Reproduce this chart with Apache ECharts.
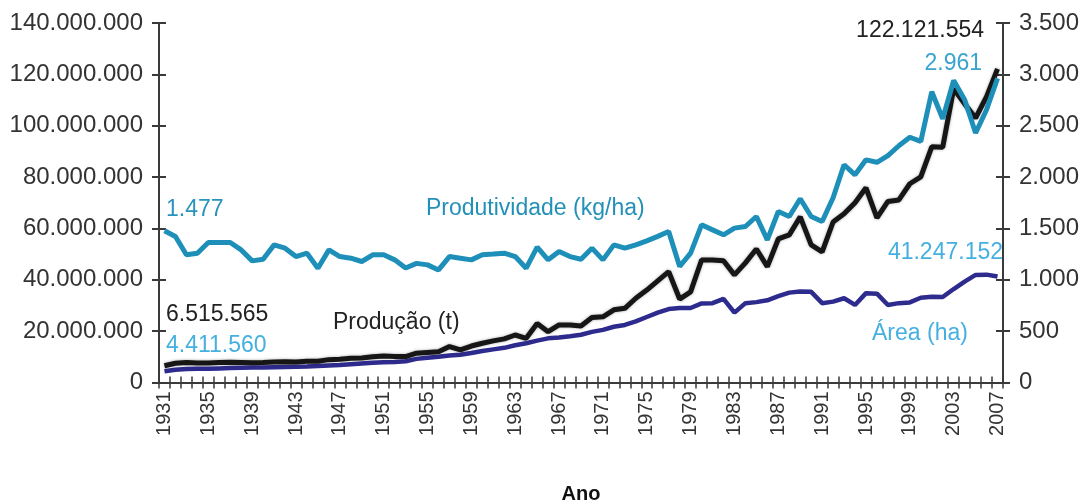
<!DOCTYPE html>
<html>
<head>
<meta charset="utf-8">
<script src="https://cdn.jsdelivr.net/npm/echarts@6/dist/echarts.min.js"></script>
<style>
  html, body { margin: 0; padding: 0; background: #fff; }
  #chart { width: 1087px; height: 503px; }
</style>
</head>
<body>
<div id="chart"></div>
<script>
const years = [
  "1931","1932","1933","1934","1935","1936","1937","1938","1939","1940",
  "1941","1942","1943","1944","1945","1946","1947","1948","1949","1950",
  "1951","1952","1953","1954","1955","1956","1957","1958","1959","1960",
  "1961","1962","1963","1964","1965","1966","1967","1968","1969","1970",
  "1971","1972","1973","1974","1975","1976","1977","1978","1979","1980",
  "1981","1982","1983","1984","1985","1986","1987","1988","1989","1990",
  "1991","1992","1993","1994","1995","1996","1997","1998","1999","2000",
  "2001","2002","2003","2004","2005","2006","2007"
];

// produção (t)
const producao = [
  6515565, 7500000, 7800000, 7600000, 7600000, 7800000, 7900000, 7800000, 7700000, 7800000,
  8000000, 8100000, 8000000, 8300000, 8300000, 8900000, 9100000, 9400000, 9500000, 10000000,
  10300000, 10100000, 10100000, 11400000, 11700000, 12000000, 14000000, 12700000, 14200000, 15300000,
  16200000, 17000000, 18500000, 17200000, 23000000, 19800000, 22400000, 22400000, 22000000, 25300000,
  25600000, 28300000, 28900000, 32800000, 36000000, 39600000, 43200000, 32500000, 35300000, 47700000,
  47700000, 47400000, 41900000, 46600000, 52000000, 45100000, 55900000, 57500000, 64500000, 53600000,
  50900000, 62500000, 65700000, 70000000, 75800000, 64100000, 70500000, 71100000, 77400000, 80100000,
  91800000, 91600000, 114400000, 108500000, 103000000, 111300000, 122121554
];

// área (ha)
const area = [
  4411560, 5000000, 5300000, 5400000, 5400000, 5500000, 5600000, 5700000, 5800000, 5800000,
  5900000, 6000000, 6100000, 6200000, 6400000, 6600000, 6800000, 7100000, 7400000, 7700000,
  7900000, 8000000, 8300000, 9200000, 9600000, 10000000, 10500000, 10800000, 11500000, 12300000,
  12900000, 13500000, 14500000, 15300000, 16300000, 17200000, 17500000, 18000000, 18600000, 19700000,
  20500000, 21700000, 22400000, 23800000, 25500000, 27200000, 28600000, 29000000, 29000000, 30800000,
  30900000, 32600000, 27200000, 30900000, 31300000, 32000000, 33600000, 35000000, 35400000, 35300000,
  30900000, 31500000, 32800000, 30200000, 34800000, 34600000, 30200000, 30900000, 31200000, 33000000,
  33400000, 33300000, 36400000, 39300000, 41900000, 42000000, 41247152
];

// produtividade (kg/ha)
const produtividade = [
  1477, 1421, 1243, 1259, 1363, 1363, 1363, 1291, 1184, 1200,
  1340, 1308, 1226, 1259, 1113, 1291, 1226, 1210, 1178, 1243,
  1243, 1194, 1115, 1160, 1145, 1096, 1226, 1210, 1194, 1243,
  1250, 1259, 1226, 1113, 1318, 1194, 1275, 1226, 1200, 1308,
  1194, 1340, 1308, 1340, 1379, 1423, 1470, 1129, 1259, 1535,
  1486, 1438, 1503, 1519, 1616, 1389, 1665, 1616, 1789, 1616,
  1567, 1798, 2120, 2022, 2168, 2144, 2208, 2305, 2388, 2347,
  2831, 2568, 2940, 2753, 2429, 2656, 2961
];

const leftTicks = [0, 140000000, 20000000];
const rightTicks = [0, 3500, 500];

document.addEventListener("DOMContentLoaded", () => {
  initChart();
});

function dots(value) {
  return String(value).replace(/\B(?=(\d{3})+(?!\d))/g, ".");
}

function note(text, x, y, color, align) {
  return {
    type: "text",
    style: {
      x: x, y: y, text: text, fill: color,
      font: "23px 'Liberation Sans', Arial, sans-serif",
      textAlign: align || "left", textVerticalAlign: "middle"
    },
    z: 100
  };
}

function initChart() {
  const chart = echarts.init(document.getElementById("chart"));
  const font = "'Liberation Sans', Arial, sans-serif";
  const axisColor = "#3a3a3a";

  const valueAxis = (ticks, position, inside, main) => ({
    type: "value",
    position: position,
    min: ticks[0],
    max: ticks[1],
    interval: ticks[2],
    splitLine: { show: false },
    axisLine: { show: main, lineStyle: { color: axisColor, width: 2 } },
    axisTick: { show: true, inside: inside, length: 7, lineStyle: { color: axisColor, width: 2 } },
    axisLabel: {
      show: main,
      margin: 16,
      color: "#333",
      fontFamily: font,
      fontSize: 24,
      formatter: (v) => dots(v)
    }
  });

  const catAxis = (inside, main) => ({
    type: "category",
    data: years,
    boundaryGap: true,
    position: "bottom",
    name: main ? "Ano" : "",
    nameLocation: "middle",
    nameGap: 102,
    nameTextStyle: { fontFamily: "'Liberation Sans Narrow', " + font, fontWeight: "bold", fontSize: 20, color: "#111" },
    axisLine: { show: main, onZero: false, lineStyle: { color: axisColor, width: 2 } },
    axisTick: { show: true, inside: inside, length: 6, interval: 0, lineStyle: { color: axisColor, width: 1.5 } },
    axisLabel: {
      show: main,
      interval: 3,
      rotate: 90,
      margin: 9,
      color: "#333",
      fontFamily: font,
      fontSize: 20
    }
  });

  chart.setOption({
    animation: false,
    backgroundColor: "#fff",
    grid: { left: 159, right: 84, top: 23, bottom: 120.5, containLabel: false, outerBoundsMode: "none" },
    xAxis: [catAxis(false, true), catAxis(true, false)],
    yAxis: [
      valueAxis(leftTicks, "left", false, true),
      valueAxis(rightTicks, "right", false, true),
      valueAxis(leftTicks, "left", true, false),
      valueAxis(rightTicks, "right", true, false)
    ],
    series: [
      {
        name: "Área (ha)",
        type: "line",
        yAxisIndex: 0,
        data: area,
        symbol: "none",
        lineStyle: { color: "#2e2b8e", width: 4.5 },
        z: 2
      },
      {
        name: "Produção (t)",
        type: "line",
        yAxisIndex: 0,
        data: producao,
        symbol: "none",
        lineStyle: { color: "#161616", width: 5, shadowColor: "rgba(0,0,0,0.35)", shadowBlur: 3 },
        z: 3
      },
      {
        name: "Produtividade (kg/ha)",
        type: "line",
        yAxisIndex: 1,
        data: produtividade,
        symbol: "none",
        lineStyle: { color: "#1d8fb8", width: 5 },
        z: 4
      }
    ],
    graphic: [
      note("1.477", 166, 210, "#2a93bd"),
      note("Produtividade (kg/ha)", 426, 209, "#2390b8"),
      note("6.515.565", 166, 315, "#222"),
      note("4.411.560", 166, 346, "#45b0e0"),
      note("Produção (t)", 333, 323, "#222"),
      note("122.121.554", 984, 31, "#222", "right"),
      note("2.961", 982, 64, "#3aa3d0", "right"),
      note("41.247.152", 1003, 253, "#45b0e0", "right"),
      note("Área (ha)", 872, 334, "#45b0e0")
    ]
  });
}
</script>
</body>
</html>
